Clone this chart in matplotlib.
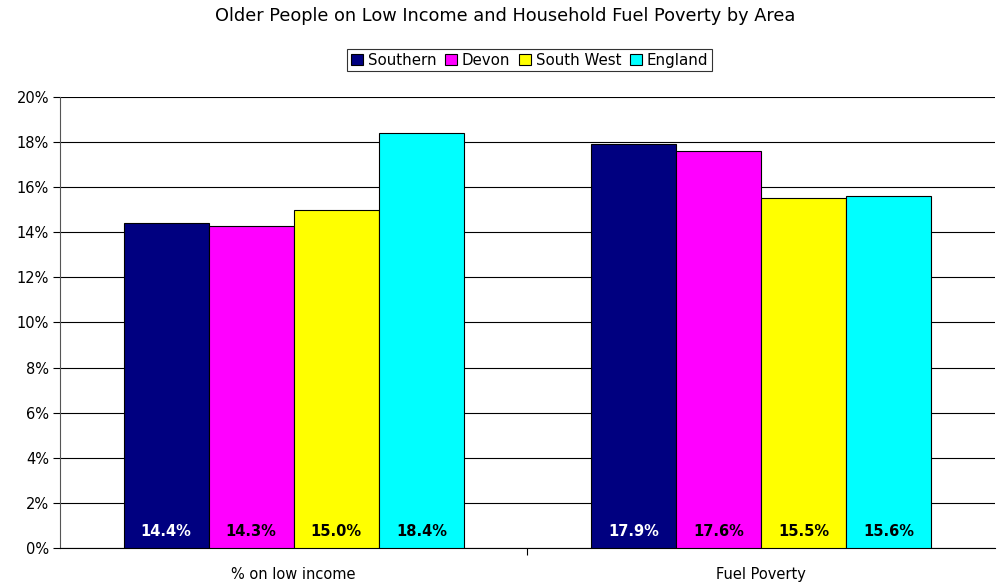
import matplotlib
matplotlib.use("Agg")
import matplotlib.pyplot as plt
import numpy as np

categories = ["% on low income", "Fuel Poverty"]
series_names = ["Southern", "Devon", "South West", "England"]
values = {
    "Southern": [14.4, 17.9],
    "Devon": [14.3, 17.6],
    "South West": [15.0, 15.5],
    "England": [18.4, 15.6],
}
colors = ["#000080", "#FF00FF", "#FFFF00", "#00FFFF"]
label_colors = ["white", "black", "black", "black"]
yticks = [0, 2, 4, 6, 8, 10, 12, 14, 16, 18, 20]

plt.rcParams['font.family'] = ['DejaVu Sans']
fig = plt.figure(figsize=(10.07, 5.84), dpi=100)
ax = fig.add_axes([0.0596, 0.0616, 0.9284, 0.7724])

x = np.arange(len(categories))
width = 0.182
for i, name in enumerate(series_names):
    offs = (i - 1.5) * width
    bars = ax.bar(x + offs, values[name], width, color=colors[i], edgecolor="black",
                  linewidth=0.8, label=name, zorder=3)
    for xi, v in zip(x + offs, values[name]):
        ax.text(xi, 0.75, f"{v:.1f}%", ha="center", va="center", fontsize=10.5,
                fontweight="bold", color=label_colors[i], zorder=4)

ax.set_xlim(-0.5, 1.5)
ax.set_ylim(0, 20)
ax.set_yticks(yticks)
ax.set_yticklabels([f"{t}%" for t in yticks], fontsize=10.5)
ax.yaxis.grid(True, color="black", linewidth=0.8, zorder=0)
ax.set_xticks([0.5])
ax.set_xticklabels([""])
ax.set_xticks(x, minor=True)
ax.set_xticklabels(categories, minor=True, fontsize=10.5)
ax.tick_params(axis="x", which="minor", length=0, pad=14)
ax.tick_params(axis="x", which="major", length=5, direction="out")
ax.tick_params(axis="y", length=5, direction="out", pad=3)
for s in ["top", "right"]:
    ax.spines[s].set_visible(False)
ax.spines["left"].set_color("#555555")
ax.spines["bottom"].set_color("black")

fig.text(0.502, 0.972, "Older People on Low Income and Household Fuel Poverty by Area",
         ha="center", va="center", fontsize=12.8)
leg = fig.legend(loc="center", bbox_to_anchor=(0.526, 0.897), ncol=4, fontsize=10.8,
                 frameon=True, fancybox=False, edgecolor="black", handlelength=0.8,
                 handleheight=0.8, handletextpad=0.3, columnspacing=0.6,
                 borderpad=0.25)
leg.get_frame().set_linewidth(0.8)

fig.savefig("out.png", dpi=100)
